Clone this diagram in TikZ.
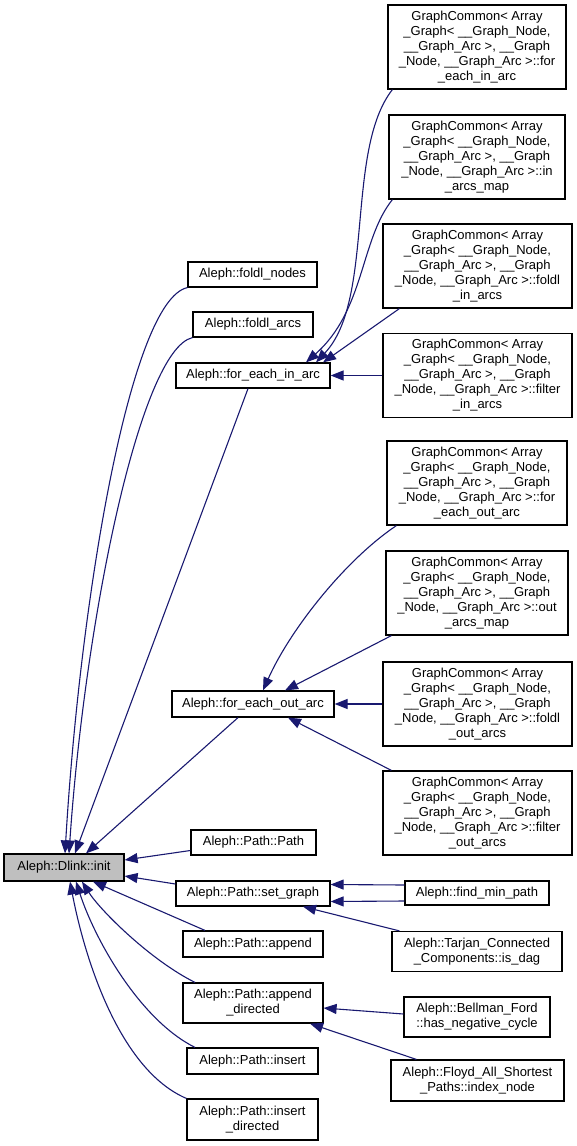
\documentclass[tikz,border=0pt]{standalone}
\usepackage{fontspec}
\setmainfont{Liberation Sans}
\usetikzlibrary{arrows.meta}
\definecolor{edgeblue}{HTML}{191970}
\definecolor{rootgray}{HTML}{BFBFBF}
\newcommand{\gcprefix}{GraphCommon< Array\\\_Graph< \_\_Graph\_Node,\\\_\_Graph\_Arc >, \_\_Graph\\\_Node, \_\_Graph\_Arc >::}
\tikzset{
  fnnode/.style={draw=black,line width=1.2pt,fill=white,inner sep=0pt,font=\fontsize{13}{15}\selectfont,align=center},
  rootnode/.style={fnnode,fill=rootgray},
  gcnode/.style={fnnode,minimum height=84pt},
  callarrow/.style={-{Triangle[length=13pt,width=10pt]},draw=edgeblue,line width=1.1pt},
}
\begin{document}
\begin{tikzpicture}[x=1pt,y=-1pt]
\useasboundingbox (0,0) rectangle (577,1146);
\node[rootnode,minimum width=120pt,minimum height=27pt] (init) at (64,867.5) {Aleph::Dlink::init};
\node[fnnode,minimum width=129pt,minimum height=25pt] (foldlnodes) at (252.5,274.5) {Aleph::foldl\_nodes};
\node[fnnode,minimum width=120pt,minimum height=25pt] (foldlarcs) at (253,324.5) {Aleph::foldl\_arcs};
\node[fnnode,minimum width=154pt,minimum height=25pt] (fia) at (253,375.5) {Aleph::for\_each\_in\_arc};
\node[fnnode,minimum width=162pt,minimum height=26pt] (foa) at (253,704) {Aleph::for\_each\_out\_arc};
\node[fnnode,minimum width=125pt,minimum height=25pt] (pathpath) at (253.5,842.5) {Aleph::Path::Path};
\node[fnnode,minimum width=154pt,minimum height=25pt] (setgraph) at (253,893.5) {Aleph::Path::set\_graph};
\node[fnnode,minimum width=140pt,minimum height=26pt] (append) at (253,944) {Aleph::Path::append};
\node[fnnode,minimum width=140pt,minimum height=40pt] (appenddir) at (253,1003) {Aleph::Path::append\\\_directed};
\node[fnnode,minimum width=131pt,minimum height=26pt] (insert) at (252.5,1061) {Aleph::Path::insert};
\node[fnnode,minimum width=131pt,minimum height=41pt] (insertdir) at (252.5,1119.5) {Aleph::Path::insert\\\_directed};
\node[gcnode,minimum width=178pt] (gc1) at (477,47) {\gcprefix for\\\_each\_in\_arc};
\node[gcnode,minimum width=176pt] (gc2) at (477,157) {\gcprefix in\\\_arcs\_map};
\node[gcnode,minimum width=189pt] (gc3) at (477.5,266) {\gcprefix foldl\\\_in\_arcs};
\node[gcnode,minimum width=189pt] (gc4) at (477.5,375.5) {\gcprefix filter\\\_in\_arcs};
\node[gcnode,minimum width=180pt] (gc5) at (477,483) {\gcprefix for\\\_each\_out\_arc};
\node[gcnode,minimum width=182pt] (gc6) at (477,593) {\gcprefix out\\\_arcs\_map};
\node[gcnode,minimum width=189pt] (gc7) at (477.5,704) {\gcprefix foldl\\\_out\_arcs};
\node[gcnode,minimum width=189pt] (gc8) at (477.5,813) {\gcprefix filter\\\_out\_arcs};
\node[fnnode,minimum width=144pt,minimum height=24pt] (findmin) at (477,893) {Aleph::find\_min\_path};
\node[fnnode,minimum width=170pt,minimum height=40pt] (tarjan) at (477,951.5) {Aleph::Tarjan\_Connected\\\_Components::is\_dag};
\node[fnnode,minimum width=146pt,minimum height=40pt] (bellman) at (477,1017) {Aleph::Bellman\_Ford\\::has\_negative\_cycle};
\node[fnnode,minimum width=173pt,minimum height=41pt] (floyd) at (477.5,1080.5) {Aleph::Floyd\_All\_Shortest\\\_Paths::index\_node};
\draw[callarrow] (foldlnodes.south west) .. controls (130,300) and (80,600) .. ([xshift=1pt]init.north);
\draw[callarrow] (foldlarcs.south west) .. controls (140,350) and (85,620) .. ([xshift=5pt]init.north);
\draw[callarrow] ([xshift=-5pt]fia.south) -- ([xshift=11pt]init.north);
\draw[callarrow] ([xshift=-15pt]foa.south) -- ([xshift=22pt]init.north);
\draw[callarrow] ([yshift=-8pt]pathpath.west) -- ([yshift=7.5pt]init.east);
\draw[callarrow] ([yshift=9.5pt]setgraph.west) -- ([yshift=-8.5pt]init.east);
\draw[callarrow] ([xshift=-48pt]append.north) -- ([xshift=29pt]init.south);
\draw[callarrow] ([xshift=-58pt]appenddir.north) .. controls (150,960) and (100,910) .. ([xshift=18pt]init.south);
\draw[callarrow] ([xshift=-57.5pt]insert.north) .. controls (140,1020) and (95,940) .. ([xshift=12pt]init.south);
\draw[callarrow] (insertdir.north west) .. controls (120,1070) and (85,960) .. ([xshift=6pt]init.south);
\draw[callarrow] ([xshift=5pt]gc1.south west) .. controls (345,150) and (375,300) .. ([xshift=63pt]fia.north);
\draw[callarrow] ([xshift=4pt]gc2.south west) .. controls (360,240) and (365,310) .. ([xshift=53pt]fia.north);
\draw[callarrow] ([xshift=17pt]gc3.south west) -- ([xshift=70pt]fia.north);
\draw[callarrow] (gc4.west) -- (fia.east);
\draw[callarrow] ([xshift=10pt]gc5.south west) .. controls (345,560) and (290,630) .. ([xshift=10pt]foa.north);
\draw[callarrow] ([xshift=6pt]gc6.south west) -- ([xshift=32pt]foa.north);
\draw[callarrow] (gc7.west) -- (foa.east);
\draw[callarrow] ([xshift=9pt]gc8.north west) -- ([xshift=35pt]foa.south);
\draw[callarrow] ([yshift=8pt]findmin.west) -- ([yshift=9pt]setgraph.east);
\draw[callarrow] ([yshift=-8pt]findmin.west) -- ([yshift=-8pt]setgraph.east);
\draw[callarrow] ([xshift=8pt]tarjan.north west) -- ([xshift=50pt]setgraph.south);
\draw[callarrow] ([yshift=3pt]bellman.west) -- ([yshift=-5pt]appenddir.east);
\draw[callarrow] ([xshift=26pt]floyd.north west) -- ([xshift=57pt]appenddir.south);
\end{tikzpicture}
\end{document}
